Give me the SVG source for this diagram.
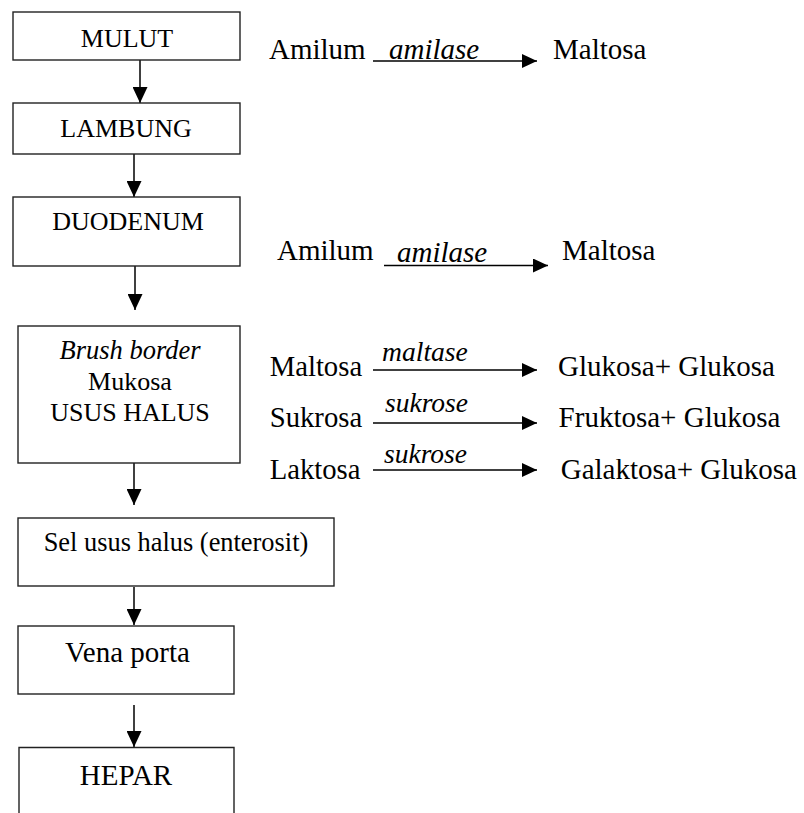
<svg xmlns="http://www.w3.org/2000/svg" width="804" height="813" viewBox="0 0 804 813">
<style>
.box{fill:#fff;stroke:#222;stroke-width:1.4}
.t{font-family:'Liberation Serif','Times New Roman','DejaVu Serif',serif;fill:#000}
.c{text-anchor:middle}
.i{font-style:italic}
.ln{stroke:#000;stroke-width:1.5;fill:none}
</style>
<defs>
<marker id="av" markerUnits="userSpaceOnUse" markerWidth="16" markerHeight="15" refX="16" refY="7.5" orient="auto">
<path d="M0,0 L16,7.5 L0,15 z" fill="#000"/>
</marker>
<marker id="ah" markerUnits="userSpaceOnUse" markerWidth="15" markerHeight="14" refX="15" refY="7" orient="auto">
<path d="M0,0 L15,7 L0,14 z" fill="#000"/>
</marker>
</defs>
<rect width="804" height="813" fill="#fff"/>
<g id="connectors">
<line class="ln" x1="140" y1="60" x2="140" y2="103" marker-end="url(#av)"/>
<line class="ln" x1="134" y1="154" x2="134" y2="197" marker-end="url(#av)"/>
<line class="ln" x1="135" y1="266" x2="135" y2="310" marker-end="url(#av)"/>
<line class="ln" x1="134" y1="463" x2="134" y2="505" marker-end="url(#av)"/>
<line class="ln" x1="134" y1="587" x2="134" y2="625" marker-end="url(#av)"/>
<line class="ln" x1="134" y1="705" x2="134" y2="747" marker-end="url(#av)"/>
<line class="ln" x1="373" y1="61" x2="537" y2="61" marker-end="url(#ah)"/>
<line class="ln" x1="384" y1="265.5" x2="548" y2="265.5" marker-end="url(#ah)"/>
<line class="ln" x1="373" y1="370" x2="537" y2="370" marker-end="url(#ah)"/>
<line class="ln" x1="373" y1="423" x2="537" y2="423" marker-end="url(#ah)"/>
<line class="ln" x1="373" y1="470" x2="537" y2="470" marker-end="url(#ah)"/>
</g>
<g id="mulut"><rect class="box" x="13" y="12" width="227" height="48"/><text class="t c" x="127" y="47" font-size="26">MULUT</text></g>
<g id="lambung"><rect class="box" x="13" y="103" width="227" height="51"/><text class="t c" x="126" y="137" font-size="26">LAMBUNG</text></g>
<g id="duodenum"><rect class="box" x="13" y="197" width="227" height="69"/><text class="t c" x="128" y="230" font-size="26">DUODENUM</text></g>
<g id="usus-halus"><rect class="box" x="18" y="326" width="222" height="137"/>
<text class="t c i" x="130" y="359" font-size="26.5">Brush border</text>
<text class="t c" x="130" y="390" font-size="26">Mukosa</text>
<text class="t c" x="130" y="420.5" font-size="26">USUS HALUS</text></g>
<g id="sel-usus"><rect class="box" x="18" y="518" width="316" height="68"/><text class="t c" x="176" y="550.5" font-size="26.4">Sel usus halus (enterosit)</text></g>
<g id="vena-porta"><rect class="box" x="18" y="626" width="216" height="68"/><text class="t c" x="127.5" y="661.5" font-size="29">Vena porta</text></g>
<g id="hepar"><path class="box" d="M19,820 L19,747.5 L234,747.5 L234,820"/><text class="t c" x="126" y="785" font-size="29">HEPAR</text></g>
<g id="reaction-mulut">
<text class="t" x="269" y="59" font-size="29">Amilum</text>
<text class="t i" x="389" y="58.5" font-size="29">amilase</text>
<text class="t" x="553" y="59" font-size="29">Maltosa</text>
</g>
<g id="reaction-duodenum">
<text class="t" x="277" y="260" font-size="29">Amilum</text>
<text class="t i" x="397" y="261.5" font-size="29">amilase</text>
<text class="t" x="562" y="260" font-size="29">Maltosa</text>
</g>
<g id="reaction-maltosa">
<text class="t" x="269.7" y="376" font-size="28.7">Maltosa</text>
<text class="t i" x="382" y="360.5" font-size="27.6">maltase</text>
<text class="t" x="558" y="376" font-size="29">Glukosa+ Glukosa</text>
</g>
<g id="reaction-sukrosa">
<text class="t" x="269.7" y="427.4" font-size="28.7">Sukrosa</text>
<text class="t i" x="385" y="412" font-size="27.5">sukrose</text>
<text class="t" x="558.6" y="427.4" font-size="29">Fruktosa+ Glukosa</text>
</g>
<g id="reaction-laktosa">
<text class="t" x="269.7" y="478.6" font-size="28.7">Laktosa</text>
<text class="t i" x="384" y="462.7" font-size="27.5">sukrose</text>
<text class="t" x="560.7" y="478.6" font-size="29">Galaktosa+ Glukosa</text>
</g>
</svg>
